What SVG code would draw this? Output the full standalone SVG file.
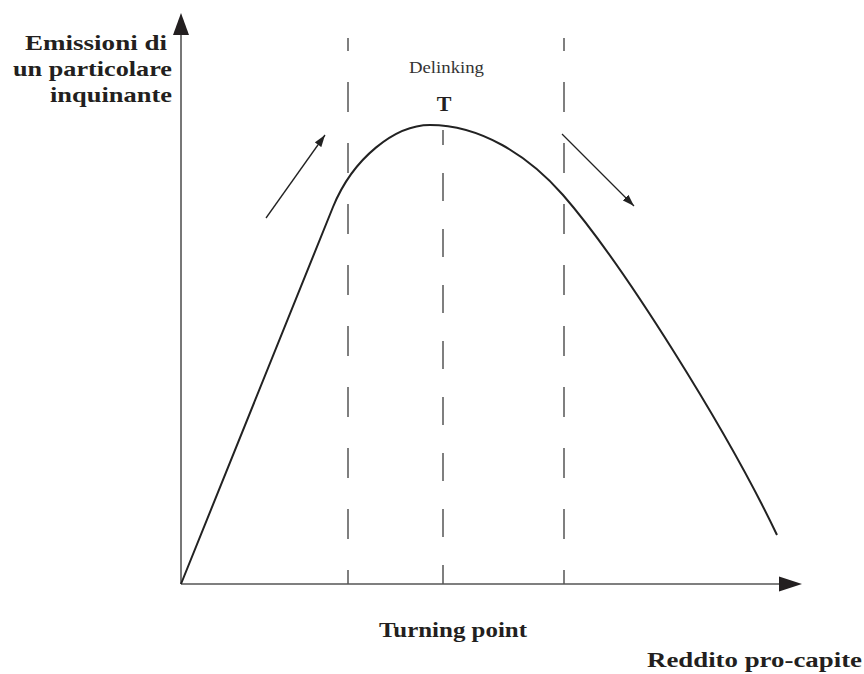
<svg xmlns="http://www.w3.org/2000/svg" width="864" height="674" viewBox="0 0 864 674">
<style>
.axis{stroke:#555;stroke-width:1.6;fill:none}
.dash{stroke:#555;stroke-width:1.5;fill:none}
.curve{stroke:#222;stroke-width:2;fill:none}
.arr{stroke:#222;stroke-width:1.3;fill:none}
.lbl{font-family:"Liberation Serif","Times New Roman",serif;font-weight:bold;fill:#231f20}
.small{font-family:"Liberation Serif","Times New Roman",serif;fill:#333}
</style>
<defs>
<marker id="ah" viewBox="0 0 12 8" refX="12" refY="4" markerWidth="12" markerHeight="8" markerUnits="userSpaceOnUse" orient="auto">
<path d="M0,0 L12,4 L0,8 Z" fill="#222"/>
</marker>
</defs>
<g id="axes">
<line class="axis" x1="181" y1="584" x2="181" y2="30"/>
<path d="M181,13 L189,35 L173,35 Z" fill="#231f20"/>
<line class="axis" x1="181" y1="584" x2="785" y2="584"/>
<path d="M802,584 L779,576.5 L779,591.5 Z" fill="#231f20"/>
</g>
<g id="guides">
<line class="dash" x1="348" y1="38" x2="348" y2="584" stroke-dasharray="30 31" stroke-dashoffset="17"/>
<line class="dash" x1="564" y1="38" x2="564" y2="584" stroke-dasharray="30 31" stroke-dashoffset="17"/>
<line class="dash" x1="443" y1="130" x2="443" y2="584" stroke-dasharray="28 28" stroke-dashoffset="13"/>
</g>
<g id="curve">
<path class="curve" d="M181,584 L333,207 C353,158 395,125 430,125 C480,125 528,155 563,195 C623,264 727,430 777,535"/>
</g>
<g id="connectors">
<line class="arr" x1="266" y1="218" x2="325" y2="135" marker-end="url(#ah)"/>
<line class="arr" x1="562" y1="134" x2="634" y2="206" marker-end="url(#ah)"/>
</g>
<g id="label-y">
<text class="lbl" font-size="21" text-anchor="end" x="167" y="50" textLength="142" lengthAdjust="spacingAndGlyphs">Emissioni di</text>
<text class="lbl" font-size="21" text-anchor="end" x="172" y="76" textLength="159" lengthAdjust="spacingAndGlyphs">un particolare</text>
<text class="lbl" font-size="21" text-anchor="end" x="172" y="102" textLength="122" lengthAdjust="spacingAndGlyphs">inquinante</text>
</g>
<g id="label-delinking">
<text class="small" font-size="16" x="409" y="73" textLength="75" lengthAdjust="spacingAndGlyphs">Delinking</text>
</g>
<g id="label-T">
<text class="lbl" font-size="22" text-anchor="middle" x="444" y="111">T</text>
</g>
<g id="label-turning">
<text class="lbl" font-size="20" x="379" y="637" textLength="148" lengthAdjust="spacingAndGlyphs">Turning point</text>
</g>
<g id="label-x">
<text class="lbl" font-size="20" x="647" y="667" textLength="215" lengthAdjust="spacingAndGlyphs">Reddito pro-capite</text>
</g>
</svg>
